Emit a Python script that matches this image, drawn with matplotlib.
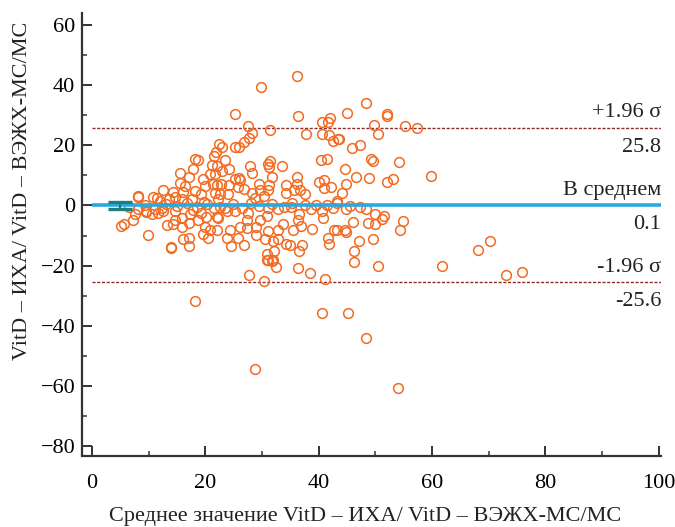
import matplotlib
matplotlib.use("Agg")
import matplotlib.pyplot as plt
from matplotlib.ticker import MultipleLocator

plt.rcParams['font.family'] = ['Liberation Serif', 'DejaVu Serif']

# средние значения (ось X) и разности (ось Y)
avg_vals = [
    29.8, 36.1, 25.2, 36.3, 27.5, 28.3, 31.4, 27.7, 26.9, 25.2, 25.9, 22.9, 37.7, 40.6, 42.0, 41.6,
    40.5, 41.8, 42.6, 43.4, 40.4, 41.4, 31.4, 31.0, 31.2, 33.6, 27.9, 28.3, 31.8, 36.1, 23.5, 24.2,
    22.9, 22.0, 21.7, 25.9, 25.3, 26.1, 22.8, 22.0, 24.2, 25.8, 26.8, 29.5, 29.6, 31.2, 31.1, 34.2,
    34.2, 36.1, 35.7, 36.7, 37.6, 40.0, 41.0, 42.2, 41.0, 24.0, 22.6, 28.2, 28.7, 30.4, 35.3, 41.4,
    43.2, 21.5,
    21.8, 22.4, 18.2, 18.7, 17.9, 15.5, 21.1, 17.2, 15.5, 12.6, 8.2, 10.8, 19.6, 20.8, 19.9, 18.2,
    16.1, 14.6, 16.4, 21.4, 14.3, 21.7, 13.5, 12.0, 17.6, 19.3, 15.9, 22.3,
    48.3, 45.0, 52.0, 52.1, 49.7, 50.5, 55.2, 57.4, 43.6, 45.8, 47.3, 49.3, 49.6, 54.2, 44.6, 46.5,
    48.9, 52.0, 53.1, 59.9, 44.8, 44.1, 43.2,
    7.6, 5.2, 5.7, 7.3, 9.8, 9.6, 11.7, 10.5, 13.2, 14.6, 14.6, 15.9, 14.3, 15.9, 17.3, 17.1,
    18.7, 19.3, 20.2, 22.0, 19.9, 20.8, 19.5, 20.5, 16.1, 17.1, 17.1, 13.9, 13.9, 12.6, 12.3, 11.2,
    18.2,
    22.3, 22.0, 24.3, 23.8, 24.5, 25.2, 23.9, 25.7, 26.9, 26.1, 27.3, 27.3, 27.6, 29.0, 29.0, 29.6,
    30.8, 31.1, 32.9, 31.0, 30.5, 32.0, 32.9, 33.7, 32.9, 30.8, 32.2, 31.0, 32.0, 32.4, 34.3, 34.9,
    35.5, 36.5, 36.4, 36.9, 37.1, 36.5, 38.9, 38.7, 40.5, 40.8, 41.6, 41.8, 42.7, 36.4, 38.4, 41.1,
    27.7, 30.4, 40.5, 35.2, 22.6, 23.5,
    45.5, 44.9, 47.3, 48.4, 49.9, 51.6, 51.1, 46.1, 48.7, 49.9, 54.9, 44.7,
    44.9, 43.2, 47.1, 49.5, 46.3, 46.3, 50.5, 61.7, 54.4, 45.2, 48.3, 54.0,
    73.1, 75.9, 68.1, 70.2, 28.7, 30.8, 31.7,
    8.1, 11.4, 9.3, 9.6, 8.2,
    13.0, 15.0, 16.8, 18.5, 20.3, 21.5, 24.8, 26.5, 28.0, 29.5, 31.8, 33.8, 37.5, 39.5, 42.5, 17.8,
    19.8, 6.5,
]
diff_vals = [
    39.3, 42.9, 30.3, 29.8, 26.4, 24.2, 25.0, 22.3, 21.2, 19.6, 19.6, 19.6, 23.7, 27.6, 29.2, 27.8,
    23.7, 23.4, 21.4, 22.0, 15.1, 15.6, 14.8, 13.7, 12.9, 13.1, 13.1, 10.7, 9.6, 9.6, 15.1, 12.0,
    11.4, 13.1, 10.3, 9.2, 8.7, 8.4, 7.0, 6.7, 6.7, 6.1, 5.6, 7.0, 5.3, 6.7, 5.1, 6.7,
    4.2, 7.0, 5.1, 5.1, 3.7, 7.8, 8.4, 6.2, 5.9, 3.7, 3.7, 4.2, 2.6, 3.3, 0.9, 0.3,
    1.4, 16.5,
    17.8, 20.3, 15.6, 15.1, 12.2, 10.7, 13.3, 9.6, 7.3, 5.1, 2.9, 2.9, 8.7, 10.3, 6.4, 4.8,
    4.4, 2.9, 6.4, 7.0, 4.4, 4.0, 2.0, 1.4, 2.0, 3.7, 2.0, 2.0,
    34.2, 30.7, 29.8, 30.3, 26.7, 23.7, 26.4, 25.6, 22.0, 19.2, 20.0, 15.3, 14.8, 14.6, 12.2, 9.6,
    9.2, 7.8, 8.7, 9.8, 7.0, 4.2, 0.9,
    -2.8, -6.9, -6.1, -5.0, -9.7, -2.1, -2.4, -3.0, -6.6, -1.9, -4.7, -4.1, -6.1, -7.2, -2.8, -5.8,
    -4.7, -2.4, -3.9, -3.9, -7.2, -8.3, -9.4, -10.8, -11.3, -10.8, -13.6, -13.9, -14.3, -1.7, -0.8, -1.3,
    -31.7,
    -4.1, -8.0, -8.0, -10.8, -13.6, -1.7, -1.9, -10.8, -13.0, -7.2, -7.4, -4.7, -2.4, -9.9, -7.2, -4.7,
    -3.6, -0.8, -1.3, -8.6, -11.3, -11.7, -8.0, -6.3, -11.3, -16.1, -15.0, -18.3, -18.3, -20.6, -12.8, -13.2,
    -8.0, -2.8, -4.7, -6.9, -13.2, -15.2, -7.7, -1.3, -1.9, -4.3, -10.8, -12.8, -8.3, -20.8, -22.4, -24.3,
    -23.0, -25.2, -35.8, -0.6, -0.6, -0.8,
    -0.2, -1.3, -0.4, -1.3, -2.7, -3.6, -4.4, -5.6, -5.8, -6.3, -5.2, -8.0,
    -8.8, -8.3, -11.7, -11.3, -15.0, -18.8, -20.2, -20.2, -8.3, -35.8, -44.1, -60.8,
    -23.2, -22.1, -14.7, -11.9, -54.3, -18.2, -18.6,
    3.1, 2.6, 0.3, -1.9, -1.3,
    0.5, -0.3, 0.8, -0.5, 0.6, -1.0, 0.4, -0.9, 0.7, -0.2, 0.5, -0.4, 0.3, 0.2, -0.8, -1.4,
    1.2, -0.5,
]

bias = 0.1
loa_upper = 25.8
loa_lower = -25.6
ci_x = 4.9
ci_low, ci_high = -1.3, 1.1

fig = plt.figure(figsize=(6.75, 5.27), dpi=100)
ax = fig.add_subplot(111)
fig.subplots_adjust(left=92/675, right=661/675, bottom=1-446/527, top=1-13/527)

ax.plot(avg_vals, diff_vals, 'o', mfc='none', mec='#f26b22', ms=7.0, mew=1.1, zorder=2)

ax.axhline(bias, color='#2aa8e0', lw=2.6, zorder=3)
ax.axhline(loa_upper, color='#8b2a2a', lw=1.0, ls=(0, (2.2, 1.2)), zorder=1)
ax.axhline(loa_lower, color='#8b2a2a', lw=1.0, ls=(0, (2.2, 1.2)), zorder=1)

# доверительный интервал среднего
ci_mid = (ci_low + ci_high) / 2
ax.errorbar([ci_x], [ci_mid], yerr=[[ci_mid - ci_low], [ci_high - ci_mid]], fmt='none',
            ecolor='#1d7f7c', elinewidth=1.6, capsize=8.4, capthick=2.4, zorder=4)

ax.set_xlim(0, 100.4)
ax.set_ylim(-80, 64)

# подписи справа
tr = ax.get_yaxis_transform()
for val, top_txt, bot_txt in [(loa_upper, '+1.96 σ', '25.8'),
                              (bias, 'В среднем', '0.1'),
                              (loa_lower, '-1.96 σ', '-25.6')]:
    ax.annotate(top_txt, (1.0, val), xycoords=tr, xytext=(0, 4), textcoords='offset points',
                ha='right', va='bottom', fontsize=16, color='#222222')
    ax.annotate(bot_txt, (1.0, val), xycoords=tr, xytext=(0, -7), textcoords='offset points',
                ha='right', va='top', fontsize=16, color='#222222')

for s in ['top', 'right']:
    ax.spines[s].set_visible(False)
for s in ['left', 'bottom']:
    ax.spines[s].set_position(('outward', 7))
    ax.spines[s].set_linewidth(1.6)
    ax.spines[s].set_color('#333333')
ax.spines['left'].set_bounds(-83, 64)
ax.spines['bottom'].set_bounds(-1.76, 100.4)

ax.xaxis.set_major_locator(MultipleLocator(20))
ax.xaxis.set_minor_locator(MultipleLocator(10))
ax.yaxis.set_major_locator(MultipleLocator(20))
ax.yaxis.set_minor_locator(MultipleLocator(10))
ax.tick_params(which='major', direction='in', length=7.2, width=1.4, color='#333333', labelsize=16)
ax.tick_params(which='minor', direction='in', length=3.6, width=1.1, color='#333333')
ax.tick_params(axis='x', which='major', pad=13)
ax.tick_params(axis='y', which='major', pad=5)

ax.set_xlabel('Среднее значение VitD – ИХА/ VitD – ВЭЖХ-МС/МС', fontsize=16, color='#222222')
ax.set_ylabel('VitD – ИХА/ VitD – ВЭЖХ-МС/МС', fontsize=16, color='#222222')
ax.xaxis.set_label_coords(0.48, -0.14)
ax.yaxis.set_label_coords(-0.105, 0.59)

fig.savefig('out.png', dpi=100)
